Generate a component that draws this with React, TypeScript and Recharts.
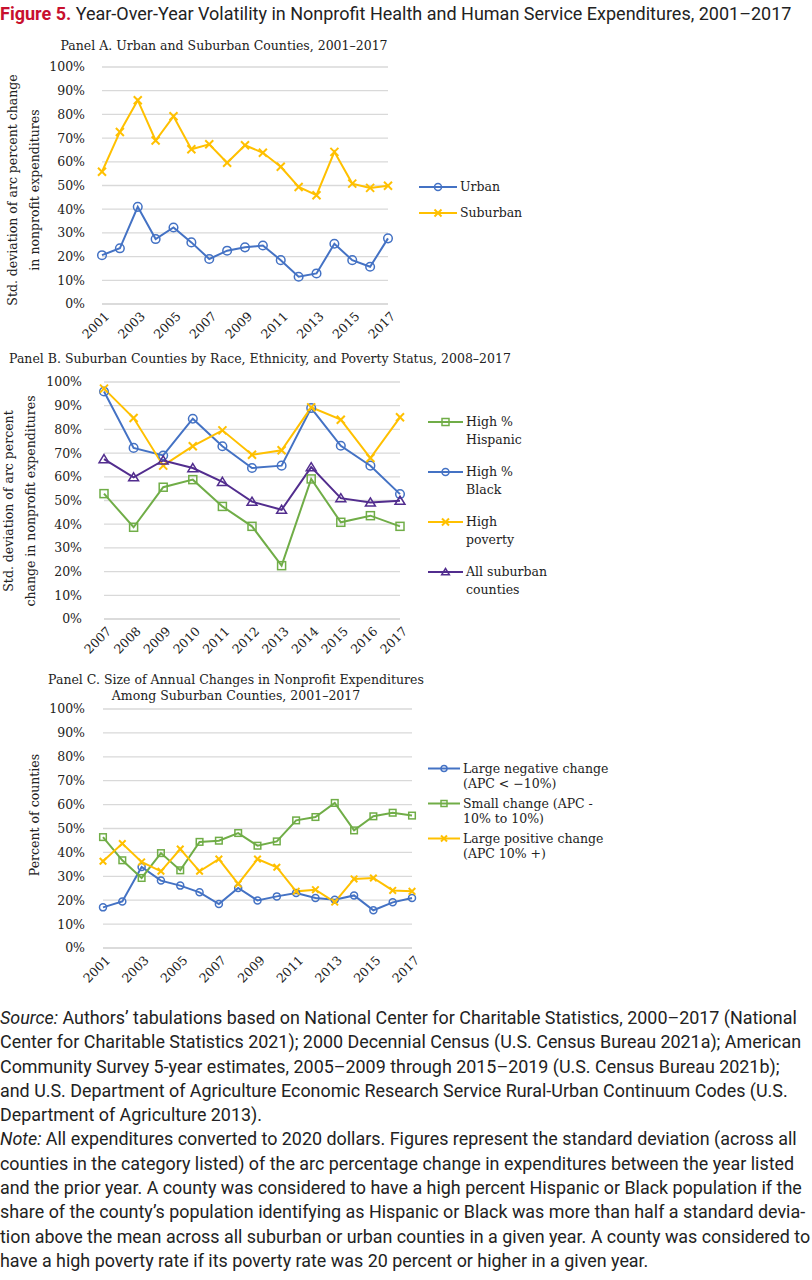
import { LineChart, Line, XAxis, YAxis, CartesianGrid, Legend } from "recharts";

// ---- data (percent) ----
const yearsA = ["2001", "2002", "2003", "2004", "2005", "2006", "2007", "2008", "2009", "2010", "2011", "2012", "2013", "2014", "2015", "2016", "2017"];
const urban = [20.6, 23.5, 41.0, 27.4, 32.3, 26.0, 19.0, 22.5, 23.9, 24.7, 18.5, 11.5, 12.9, 25.4, 18.5, 15.7, 27.7];
const suburban = [55.8, 72.6, 86.0, 69.0, 79.2, 65.3, 67.4, 59.6, 67.0, 63.8, 57.9, 49.4, 45.9, 64.2, 50.8, 49.0, 49.9];

const yearsB = ["2007", "2008", "2009", "2010", "2011", "2012", "2013", "2014", "2015", "2016", "2017"];
const highHispanic = [52.9, 38.7, 55.6, 58.8, 47.5, 39.1, 22.5, 59.1, 40.8, 43.6, 39.1];
const highBlack = [96.0, 72.2, 69.0, 84.5, 72.9, 63.7, 64.7, 89.0, 73.1, 64.7, 52.7];
const highPoverty = [97.2, 84.8, 64.7, 72.9, 79.6, 69.3, 71.2, 89.3, 84.1, 67.9, 85.1];
const allSuburban = [67.5, 59.8, 66.9, 63.7, 57.9, 49.5, 46.1, 64.1, 51.0, 49.2, 49.9];

const yearsC = yearsA;
const largeNegative = [17.0, 19.5, 33.9, 28.2, 26.1, 23.3, 18.4, 25.1, 19.9, 21.6, 23.0, 20.9, 20.2, 22.0, 15.8, 19.1, 20.9];
const smallChange = [46.4, 36.7, 29.3, 39.7, 32.5, 44.4, 44.9, 48.1, 42.8, 44.6, 53.4, 54.8, 60.7, 49.2, 55.1, 56.6, 55.4];
const largePositive = [36.3, 43.7, 36.0, 32.1, 41.4, 32.1, 37.2, 26.8, 37.2, 33.8, 23.7, 24.4, 19.2, 28.9, 29.3, 24.1, 23.7];

const pctTicks = [0, 10, 20, 30, 40, 50, 60, 70, 80, 90, 100];

const sourceLines = [
  "Authors\u2019 tabulations based on National Center for Charitable Statistics, 2000\u20132017 (National",
  "Center for Charitable Statistics 2021); 2000 Decennial Census (U.S. Census Bureau 2021a); American",
  "Community Survey 5-year estimates, 2005\u20132009 through 2015\u20132019 (U.S. Census Bureau 2021b);",
  "and U.S. Department of Agriculture Economic Research Service Rural-Urban Continuum Codes (U.S.",
  "Department of Agriculture 2013).",
];
const noteLines = [
  "All expenditures converted to 2020 dollars. Figures represent the standard deviation (across all",
  "counties in the category listed) of the arc percentage change in expenditures between the year listed",
  "and the prior year. A county was considered to have a high percent Hispanic or Black population if the",
  "share of the county\u2019s population identifying as Hispanic or Black was more than half a standard devia-",
  "tion above the mean across all suburban or urban counties in a given year. A county was considered to",
  "have a high poverty rate if its poverty rate was 20 percent or higher in a given year.",
];

const BLUE = "#4472c4";
const GOLD = "#ffc000";
const GREEN = "#70ad47";
const PURPLE = "#522d8e";
const GRID = "#d9d9d9";
const SERIF = "'DejaVu Serif', serif";
const SANS = "Roboto, 'Liberation Sans', sans-serif";
const INK = "#222";

const panelAData = yearsA.map((year, i) => ({ year, urban: urban[i], suburban: suburban[i] }));
const panelBData = yearsB.map((year, i) => ({
  year,
  hispanic: highHispanic[i],
  black: highBlack[i],
  poverty: highPoverty[i],
  all: allSuburban[i],
}));
const panelCData = yearsC.map((year, i) => ({
  year,
  negative: largeNegative[i],
  small: smallChange[i],
  positive: largePositive[i],
}));

type Shape = "circle" | "cross" | "square" | "triangle";

function Marker({ shape, cx, cy, color, size }: { shape: Shape; cx: number; cy: number; color: string; size: number }) {
  if (shape === "circle") {
    return <circle cx={cx} cy={cy} r={size} fill="none" stroke={color} strokeWidth={1.5} />;
  }
  if (shape === "cross") {
    return (
      <g stroke={color} strokeWidth={2}>
        <line x1={cx - size} y1={cy - size} x2={cx + size} y2={cy + size} />
        <line x1={cx - size} y1={cy + size} x2={cx + size} y2={cy - size} />
      </g>
    );
  }
  if (shape === "square") {
    return <rect x={cx - size} y={cy - size} width={size * 2} height={size * 2} fill="none" stroke={color} strokeWidth={1.5} />;
  }
  const pts = `${cx},${cy - size} ${cx + size * 1.1},${cy + size * 0.8} ${cx - size * 1.1},${cy + size * 0.8}`;
  return <polygon points={pts} fill="none" stroke={color} strokeWidth={1.5} />;
}

const dotOf = (shape: Shape, color: string, size: number) => (props: any) => (
  <g key={`dot-${props.index}`}>
    {props.cx != null && props.cy != null ? <Marker shape={shape} cx={props.cx} cy={props.cy} color={color} size={size} /> : null}
  </g>
);

// rotated year labels, like the Excel category axis
const YearTick = ({ x, y, payload }: any) => (
  <text
    x={x + 5}
    y={y + 10}
    transform={`rotate(-45 ${x + 5} ${y + 10})`}
    textAnchor="end"
    dy="0.35em"
    fontFamily={SERIF}
    fontSize={12.5}
    fill={INK}
  >
    {payload.value}
  </text>
);

interface LegendItem {
  lines: string[];
  color: string;
  shape: Shape;
}

const legendContent = (items: LegendItem[], width: number, pad: number, swatch: number, lineH: number, rowH: number, mark: number) => () => (
  <div style={{ width, paddingLeft: pad, boxSizing: "border-box", fontFamily: SERIF, fontSize: 12.5, color: INK }}>
    {items.map((it) => (
      <div key={it.lines[0]} style={{ display: "flex", alignItems: "flex-start", height: rowH }}>
        <svg width={swatch} height={lineH} style={{ flex: "none" }}>
          <line x1={0} x2={swatch} y1={lineH / 2} y2={lineH / 2} stroke={it.color} strokeWidth={2} />
          <Marker shape={it.shape} cx={swatch / 2} cy={lineH / 2} color={it.color} size={mark} />
        </svg>
        <div style={{ marginLeft: 3, lineHeight: `${lineH}px`, whiteSpace: "nowrap" }}>
          {it.lines.map((l) => (
            <div key={l}>{l}</div>
          ))}
        </div>
      </div>
    ))}
  </div>
);

const pct = (v: number) => `${v}%`;

function Title({ lines, cx, top, lineH = 16 }: { lines: string[]; cx: number; top: number; lineH?: number }) {
  return (
    <div
      style={{
        position: "absolute",
        left: cx - 300,
        width: 600,
        top,
        textAlign: "center",
        fontFamily: SERIF,
        fontSize: 12.5,
        lineHeight: `${lineH}px`,
        color: INK,
        whiteSpace: "nowrap",
      }}
    >
      {lines.map((l) => (
        <div key={l}>{l}</div>
      ))}
    </div>
  );
}

function AxisTitle({ lines, cx, cy, lineH = 22 }: { lines: string[]; cx: number; cy: number; lineH?: number }) {
  const w = 300;
  const h = lines.length * lineH;
  return (
    <div
      style={{
        position: "absolute",
        left: cx - w / 2,
        top: cy - h / 2,
        width: w,
        height: h,
        transform: "rotate(-90deg)",
        textAlign: "center",
        fontFamily: SERIF,
        fontSize: 12.5,
        lineHeight: `${lineH}px`,
        color: INK,
        whiteSpace: "nowrap",
      }}
    >
      {lines.map((l) => (
        <div key={l}>{l}</div>
      ))}
    </div>
  );
}

export default function App() {
  return (
    <div style={{ position: "absolute", left: 0, top: 0, width: 812, height: 1280, background: "#fff", overflow: "hidden" }}>
      {/* figure heading */}
      <div style={{ position: "absolute", left: 0, top: 2, fontFamily: SANS, fontSize: 18, lineHeight: "24px", color: INK, whiteSpace: "nowrap" }}>
        <span style={{ color: "#c8102e", fontWeight: 700 }}>Figure 5.</span> Year-Over-Year Volatility in Nonprofit Health and Human Service Expenditures, 2001–2017
      </div>

      {/* Panel A */}
      <Title lines={["Panel A. Urban and Suburban Counties, 2001\u20132017"]} cx={224} top={38} />
      <AxisTitle lines={["Std. deviation of arc percent change", "in nonprofit expenditures"]} cx={24} cy={190} />
      <div style={{ position: "absolute", left: 0, top: 30 }}>
        <LineChart width={618} height={320} data={panelAData} margin={{ top: 37, right: 10, bottom: 6, left: 42 }}>
          <CartesianGrid vertical={false} stroke={GRID} strokeWidth={1.3} />
          <XAxis dataKey="year" interval={1} tick={<YearTick />} tickLine={false} tickSize={0} tickMargin={0} height={40} axisLine={{ stroke: GRID, strokeWidth: 1.3 }} />
          <YAxis domain={[0, 100]} ticks={pctTicks} tickFormatter={pct} width={60} axisLine={false} tickLine={false} tickSize={0} tickMargin={17} tick={{ fontFamily: SERIF, fontSize: 12.5, fill: INK }} />
          <Legend
            layout="vertical"
            align="right"
            verticalAlign="top"
            wrapperStyle={{ top: 144 }}
            content={legendContent(
              [
                { lines: ["Urban"], color: BLUE, shape: "circle" },
                { lines: ["Suburban"], color: GOLD, shape: "cross" },
              ],
              220, 31, 38, 26, 26, 3.5
            )}
          />
          <Line dataKey="urban" name="Urban" stroke={BLUE} strokeWidth={2} dot={dotOf("circle", BLUE, 4.3)} isAnimationActive={false} />
          <Line dataKey="suburban" name="Suburban" stroke={GOLD} strokeWidth={2} dot={dotOf("cross", GOLD, 4)} isAnimationActive={false} />
        </LineChart>
      </div>

      {/* Panel B */}
      <Title lines={["Panel B. Suburban Counties by Race, Ethnicity, and Poverty Status, 2008\u20132017"]} cx={260} top={351} />
      <AxisTitle lines={["Std. deviation of arc percent", "change in nonprofit expenditures"]} cx={20} cy={501} />
      <div style={{ position: "absolute", left: 0, top: 340 }}>
        <LineChart width={590} height={324} data={panelBData} margin={{ top: 42, right: 10, bottom: 5, left: 44 }}>
          <CartesianGrid vertical={false} stroke={GRID} strokeWidth={1.3} />
          <XAxis dataKey="year" interval={0} tick={<YearTick />} tickLine={false} tickSize={0} tickMargin={0} height={40} axisLine={{ stroke: GRID, strokeWidth: 1.3 }} />
          <YAxis domain={[0, 100]} ticks={pctTicks} tickFormatter={pct} width={60} axisLine={false} tickLine={false} tickSize={0} tickMargin={22} tick={{ fontFamily: SERIF, fontSize: 12.5, fill: INK }} />
          <Legend
            layout="vertical"
            align="right"
            verticalAlign="top"
            wrapperStyle={{ top: 73 }}
            content={legendContent(
              [
                { lines: ["High %", "Hispanic"], color: GREEN, shape: "square" },
                { lines: ["High %", "Black"], color: BLUE, shape: "circle" },
                { lines: ["High", "poverty"], color: GOLD, shape: "cross" },
                { lines: ["All suburban", "counties"], color: PURPLE, shape: "triangle" },
              ],
              180, 28, 35, 18, 50, 3.5
            )}
          />
          <Line dataKey="hispanic" name="High % Hispanic" stroke={GREEN} strokeWidth={2} dot={dotOf("square", GREEN, 4)} isAnimationActive={false} />
          <Line dataKey="black" name="High % Black" stroke={BLUE} strokeWidth={2} dot={dotOf("circle", BLUE, 4.3)} isAnimationActive={false} />
          <Line dataKey="poverty" name="High poverty" stroke={GOLD} strokeWidth={2} dot={dotOf("cross", GOLD, 4)} isAnimationActive={false} />
          <Line dataKey="all" name="All suburban counties" stroke={PURPLE} strokeWidth={2} dot={dotOf("triangle", PURPLE, 4.5)} isAnimationActive={false} />
        </LineChart>
      </div>

      {/* Panel C */}
      <Title lines={["Panel C. Size of Annual Changes in Nonprofit Expenditures", "Among Suburban Counties, 2001\u20132017"]} cx={236} top={672} />
      <AxisTitle lines={["Percent of counties"]} cx={35} cy={815} />
      <div style={{ position: "absolute", left: 0, top: 665 }}>
        <LineChart width={642} height={328} data={panelCData} margin={{ top: 44, right: 10, bottom: 5, left: 43 }}>
          <CartesianGrid vertical={false} stroke={GRID} strokeWidth={1.3} />
          <XAxis dataKey="year" interval={1} tick={<YearTick />} tickLine={false} tickSize={0} tickMargin={0} height={40} axisLine={{ stroke: GRID, strokeWidth: 1.3 }} />
          <YAxis domain={[0, 100]} ticks={pctTicks} tickFormatter={pct} width={60} axisLine={false} tickLine={false} tickSize={0} tickMargin={18} tick={{ fontFamily: SERIF, fontSize: 12.5, fill: INK }} />
          <Legend
            layout="vertical"
            align="right"
            verticalAlign="top"
            wrapperStyle={{ top: 96 }}
            content={legendContent(
              [
                { lines: ["Large negative change", "(APC < \u221210%)"], color: BLUE, shape: "circle" },
                { lines: ["Small change (APC -", "10% to 10%)"], color: GREEN, shape: "square" },
                { lines: ["Large positive change", "(APC 10% +)"], color: GOLD, shape: "cross" },
              ],
              220, 16, 32, 15, 35, 3
            )}
          />
          <Line dataKey="negative" name="Large negative change" stroke={BLUE} strokeWidth={2} dot={dotOf("circle", BLUE, 3.5)} isAnimationActive={false} />
          <Line dataKey="small" name="Small change" stroke={GREEN} strokeWidth={2} dot={dotOf("square", GREEN, 3.3)} isAnimationActive={false} />
          <Line dataKey="positive" name="Large positive change" stroke={GOLD} strokeWidth={2} dot={dotOf("cross", GOLD, 3.3)} isAnimationActive={false} />
        </LineChart>
      </div>

      {/* source and note */}
      <div style={{ position: "absolute", left: 0, top: 1006, fontFamily: SANS, fontSize: 17.9, lineHeight: "24.3px", color: INK, whiteSpace: "nowrap" }}>
        {sourceLines.map((l, i) => (
          <div key={l}>
            {i === 0 ? <i>Source: </i> : null}
            {l}
          </div>
        ))}
        {noteLines.map((l, i) => (
          <div key={l}>
            {i === 0 ? <i>Note: </i> : null}
            {l}
          </div>
        ))}
      </div>
    </div>
  );
}
